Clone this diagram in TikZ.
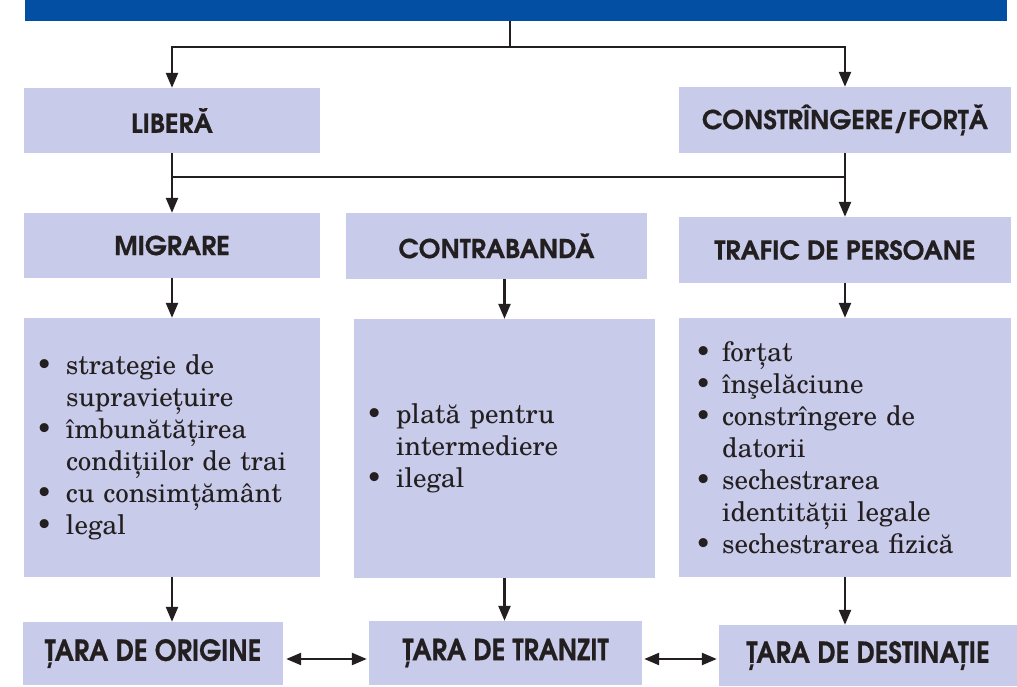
\documentclass[tikz,border=0pt]{standalone}
\usepackage{fontspec}
\usepackage{graphicx}
\setmainfont{TeX Gyre Schola}
\newfontfamily\hfont{TeX Gyre Adventor}[BoldFeatures={FakeBold=0.6}]
\usetikzlibrary{arrows.meta}
\definecolor{boxfill}{HTML}{C8CBE9}
\definecolor{barblue}{HTML}{034FA3}
\definecolor{ink}{HTML}{231F20}
\newcommand\bul{\makebox[30pt][l]{•}}
\newcommand\cont{\hspace*{30pt}}
\newcommand\bulr{\makebox[27pt][l]{•}}
\newcommand\contr{\hspace*{27pt}}
\begin{document}
\begin{tikzpicture}[x=1pt,y=-1pt,
  box/.style={fill=boxfill, draw=none, inner sep=0pt, text=ink},
  head/.style={box, font=\hfont\bfseries\fontsize{26}{30}\selectfont},
  foot/.style={box, font=\hfont\bfseries\fontsize{29}{32}\selectfont},
  list/.style={box, align=left, inner ysep=0pt, font=\fontsize{27}{32}\selectfont},
  conn/.style={line width=2.4pt, draw=ink},
  arr/.style={conn, -{Triangle[length=15pt,width=12pt]}},
  darr/.style={conn, {Triangle[length=15pt,width=12pt]}-{Triangle[length=15pt,width=12pt]}}
]
\useasboundingbox (0,0) rectangle (1017,686);
\node[fill=barblue, minimum width=982pt, minimum height=21pt, inner sep=0pt, anchor=north west] (top) at (25,0) {};

\node[head, minimum width=296pt, minimum height=65pt] (liber) at (172,120.5) {LIBERĂ};
\node[head, minimum width=332pt, minimum height=66pt] (constr) at (845,120) {CONSTRÎNGERE/FORȚĂ};
\node[head, minimum width=296pt, minimum height=65pt] (migr) at (172,245.5) {MIGRARE};
\node[head, minimum width=301pt, minimum height=66pt] (contra) at (496.5,246) {CONTRABANDĂ};
\node[head, minimum width=332pt, minimum height=66pt] (trafic) at (845,250) {TRAFIC DE PERSOANE};

\node[list, inner xsep=12pt, text width=272pt, minimum height=259pt] (mbox) at (172,447.5)
  {\bul strategie de\\ \cont supraviețuire\\ \bul îmbunătățirea\\ \cont condițiilor de trai\\ \bul cu consimțământ\\ \bul legal};
\node[list, inner xsep=12pt, text width=277pt, minimum height=259pt] (cbox) at (504.5,448.5)
  {\bul plată pentru\\ \cont intermediere\\ \bul ilegal};
\node[list, inner xsep=16pt, text width=300pt, minimum height=259pt] (tbox) at (845,447.5)
  {\bulr forțat\\ \bulr înşelăciune\\ \bulr constrîngere de\\ \contr datorii\\ \bulr sechestrarea\\ \contr identității legale\\ \bulr sechestrarea fizică};

\node[foot, minimum width=260pt, minimum height=63pt] (orig) at (153,653.5) {\scalebox{0.9}[1]{ȚARA DE ORIGINE}};
\node[foot, minimum width=273pt, minimum height=64pt] (tranzit) at (505.5,653) {\scalebox{0.9}[1]{ȚARA DE TRANZIT}};
\node[foot, minimum width=298pt, minimum height=61pt] (dest) at (868,655.5) {\scalebox{0.9}[1]{ȚARA DE DESTINAȚIE}};

\coordinate (j1) at (510,47);
\coordinate (j2) at (510,177);
\coordinate (h) at (0,659);
\draw[conn] (top.south -| j1) -- (j1);
\draw[arr] (j1) -| (liber.north);
\draw[arr] (j1) -| (constr.north);
\draw[arr] (liber.south) -- (migr.north);
\draw[arr] (constr.south) -- (trafic.north);
\draw[conn] (liber.south |- j2) -- (constr.south |- j2);
\draw[arr] (migr.south) -- (mbox.north);
\draw[arr] (contra.south -| cbox.north) -- (cbox.north);
\draw[arr] (trafic.south) -- (tbox.north);
\draw[arr] (mbox.south) -- (mbox.south |- orig.north);
\draw[arr] (cbox.south) -- (cbox.south |- tranzit.north);
\draw[arr] (tbox.south) -- (tbox.south |- dest.north);
\draw[darr, shorten <=3pt, shorten >=2pt] (orig.east |- h) -- (tranzit.west |- h);
\draw[darr, shorten <=2pt, shorten >=2pt] (tranzit.east |- h) -- (dest.west |- h);
\end{tikzpicture}
\end{document}
